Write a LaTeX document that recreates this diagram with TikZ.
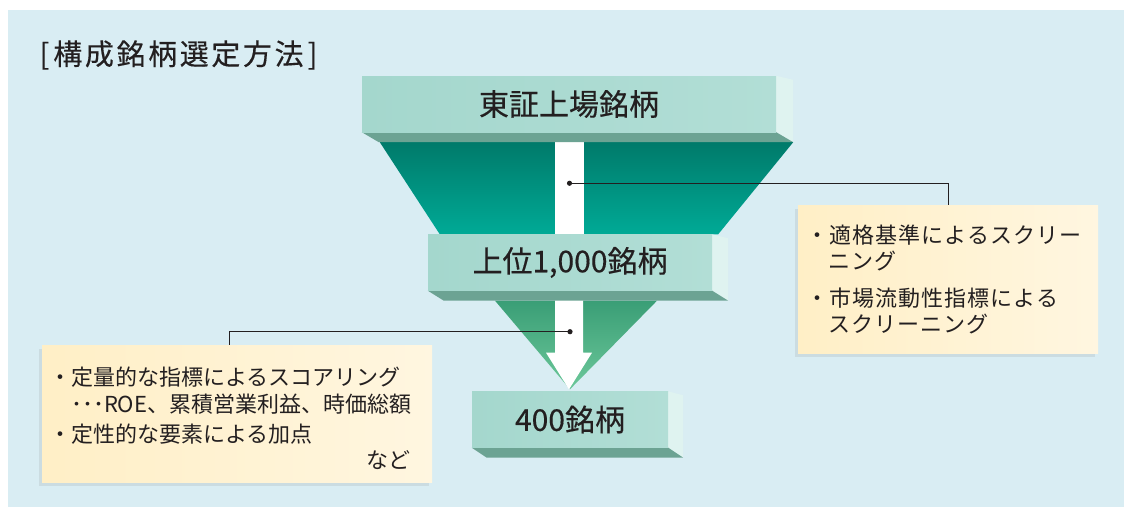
\documentclass[tikz,border=0pt]{standalone}
\usepackage{fontspec}
\newfontfamily\jpfont{Noto Sans CJK JP}
\newfontfamily\jpnotefont{Noto Sans CJK JP}[LetterSpace=5]
\newfontfamily\jptitlefont{Noto Sans CJK JP}[LetterSpace=9, FakeBold=0.3]
\newfontfamily\jptierfont{Noto Sans CJK JP}[FakeBold=0.4]
\usetikzlibrary{calc, shadows}
\tikzset{>=latex}
\definecolor{bgblue}{RGB}{217, 237, 243}
\definecolor{tierface}{RGB}{164, 215, 205}
\definecolor{tierfacelight}{RGB}{178, 222, 214}
\definecolor{tierstrip}{RGB}{108, 163, 147}
\definecolor{tierside}{RGB}{223, 243, 240}
\definecolor{funneldark}{RGB}{0, 122, 106}
\definecolor{funnellight}{RGB}{0, 170, 150}
\definecolor{conedark}{RGB}{58, 158, 118}
\definecolor{conelight}{RGB}{108, 200, 154}
\definecolor{notefill}{RGB}{255, 239, 198}
\definecolor{notelight}{RGB}{255, 246, 224}
\definecolor{ink}{RGB}{35, 31, 32}

\begin{document}
\begin{tikzpicture}[
    x = 1pt, y = -1pt,
    tier/.style = {minimum height = 56pt, inner sep = 0pt, left color = tierface, right color = tierfacelight, text = ink, font = \jptierfont\fontsize{30}{36}\selectfont},
    note/.style = {inner sep = 0pt, align = left, left color = notefill, right color = notelight, text = ink, drop shadow = {opacity = 0.15, shadow xshift = -3pt, shadow yshift = -4pt}},
    lead/.style = {line width = 0.9pt, ink},
]
\useasboundingbox (0,0) rectangle (1124,507);
\fill[white] (0,0) rectangle (1124,507);
\fill[bgblue] (8,10) rectangle (1124,507);

\node[anchor = west, text = ink, font = \jptitlefont\fontsize{29}{34}\selectfont] (title) at (36,55) {[\hspace{4pt}構成銘柄選定方法\hspace{4pt}]};

\path (569,104) node[tier, minimum width = 414pt] (listed) {}
      (570,262.5) node[tier, minimum width = 284pt] (top) {}
      (570,419.5) node[tier, minimum width = 196pt] (final) {};

\shade[top color = funneldark, bottom color = funnellight] ($(listed.south west)+(18,10)$) -- ($(listed.south east)+(17,10)$) -- ($(top.north east)+(6,0)$) -- ($(top.north west)+(12,0)$) -- cycle;
\shade[top color = conedark, bottom color = conelight] ($(top.south)+(-75,10)$) -- ($(top.south)+(87,10)$) -- ($(final.north)+(0,-2)$) -- cycle;
\fill[white] ($(listed.south)+(-14,10)$) rectangle ($(top.north)+(14,0)$);
\fill[white] ($(top.south)+(-15,0)$) -- ($(top.south)+(13,0)$) -- ($(top.south)+(13,62)$) -- ($(top.south)+(22,62)$)
    -- ($(final.north)+(-1,-2)$) -- ($(top.south)+(-24,62)$) -- ($(top.south)+(-15,62)$) -- cycle;

\foreach \n/\d in {listed/17, top/16, final/15}{
    \fill[tierside] (\n.north east) -- ++(\d,4) -- ($(\n.south east)+(\d,10)$) -- (\n.south east) -- cycle;
    \fill[tierstrip] (\n.south west) -- (\n.south east) -- ++(\d,10) -- ($(\n.south west)+(\d,10)$) -- cycle;
}
\path (listed) node[tier, minimum width = 414pt] {東証上場銘柄}
      (top) node[tier, minimum width = 284pt] {上位1,000銘柄}
      (final) node[tier, minimum width = 196pt] {400銘柄};

\node[note, minimum width = 300pt, minimum height = 148pt, text width = 284pt, font = \jpnotefont\fontsize{22}{26}\selectfont] (rnote) at (948,279)
    {・適格基準によるスクリー\\ \hspace*{1em}ニング\\[11pt] ・市場流動性指標による\\ \hspace*{1em}スクリーニング};
\node[note, minimum width = 390pt, minimum height = 137pt, text width = 376pt, font = \jpfont\fontsize{22}{27}\selectfont] (lnote) at (237,413.5)
    {\rule{0pt}{27.5pt}・定量的な指標によるスコアリング\\ \hspace*{1em}･･･ROE、累積営業利益、時価総額\\[3pt] ・定性的な要素による加点\\[-1pt] \hspace*{\fill}など\hspace*{15pt}};

\coordinate (dotA) at ($(listed.south)!0.5!(top.north)$);
\coordinate (dotB) at ($(top.south)+(0,41)$);
\draw[lead] (dotA) -| (rnote.north);
\draw[lead] (dotB) -| ([xshift = -8pt]lnote.north);
\fill[ink] (dotA) circle (2.6) (dotB) circle (2.6);
\end{tikzpicture}
\end{document}
